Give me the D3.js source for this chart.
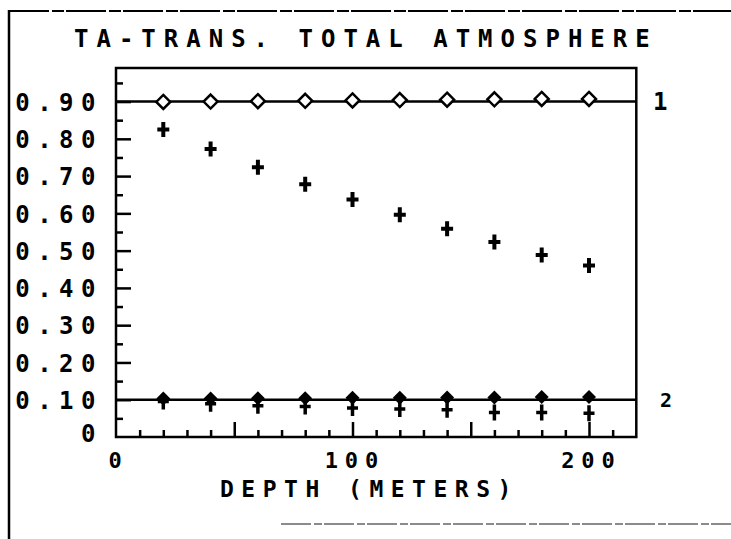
<!DOCTYPE html>
<html>
<head>
<meta charset="utf-8">
<script src="https://cdn.jsdelivr.net/npm/d3@7"></script>
<style>
  body { margin: 0; background: #fff; }
  text { font-family: "DejaVu Sans Mono", monospace; font-weight: bold; fill: #000; }
</style>
</head>
<body>
<div id="chart"></div>
<script>
// size of page
var width = 731;
var height = 539;

// data (depth in meters)
var depths = [20, 40, 60, 80, 100, 120, 140, 160, 180, 200];
var openDiamonds = [0.899, 0.900, 0.901, 0.902, 0.903, 0.904, 0.905, 0.906, 0.907, 0.907];
var plusMarks = [0.825, 0.773, 0.724, 0.678, 0.637, 0.596, 0.559, 0.523, 0.488, 0.460];
var solidDiamonds = [0.103, 0.103, 0.104, 0.104, 0.105, 0.105, 0.106, 0.106, 0.107, 0.107];
var daggerMarks = [0.095, 0.089, 0.084, 0.082, 0.078, 0.075, 0.073, 0.066, 0.066, 0.064];

// horizontal reference lines and their labels
var refLevels = [0.90, 0.10];
var refLabels = ["1", "2"];

// ticks
var xTickValues = [0, 100, 200];
var xTickLabels = ["0", "100", "200"];
var xMinorTicks = [10, 20, 30, 40, 60, 70, 80, 90, 110, 120, 130, 140, 160, 170, 180, 190, 210];
var xMajorTicks = [50, 100, 150, 200];
var yTickValues = [0, 0.1, 0.2, 0.3, 0.4, 0.5, 0.6, 0.7, 0.8, 0.9];
var yTickLabels = ["0", "0.10", "0.20", "0.30", "0.40", "0.50", "0.60", "0.70", "0.80", "0.90"];
var yMinorTicks = [0.05, 0.15, 0.25, 0.35, 0.45, 0.55, 0.65, 0.75, 0.85, 0.95];

var title = "TA-TRANS. TOTAL ATMOSPHERE";
var xTitle = "DEPTH (METERS)";

// scales
var x = d3.scaleLinear().domain([0, 220]).range([116, 636.3]);
var y = d3.scaleLinear().domain([0, 0.99]).range([437, 68]);

var svg = d3.select("#chart")
	.append("svg")
	.attr("width", width)
	.attr("height", height);

svg.append("rect").attr("width", width).attr("height", height).attr("fill", "#fff");

// page border (what's left of it on the scan)
svg.append("line").attr("x1", 9).attr("x2", 9).attr("y1", 10).attr("y2", 539)
	.attr("stroke", "#000").attr("stroke-width", 2.5);
svg.append("line").attr("x1", 9).attr("x2", 731).attr("y1", 11).attr("y2", 11)
	.attr("stroke", "#000").attr("stroke-width", 2).attr("stroke-dasharray", "40 3 12 2");
svg.append("line").attr("x1", 281).attr("x2", 731).attr("y1", 524).attr("y2", 524)
	.attr("stroke", "#666").attr("stroke-width", 1.5).attr("stroke-dasharray", "30 3 8 2");

// title
svg.append("text")
	.attr("x", 74)
	.attr("y", 47)
	.style("font-size", "24px")
	.style("letter-spacing", "8px")
	.text(title);

// x ticks pointing up into the plot
var xMinorAxis = d3.axisBottom(x).tickValues(xMinorTicks).tickSize(-7).tickFormat("");
var xMajorAxis = d3.axisBottom(x).tickValues(xMajorTicks).tickSize(-15).tickFormat("");
[xMinorAxis, xMajorAxis].forEach(function (ax) {
	var g = svg.append("g").attr("transform", "translate(0," + y(0) + ")").call(ax);
	g.select(".domain").remove();
	g.selectAll("line").attr("stroke", "#000").attr("stroke-width", 2.5);
});

// x labels
var xLab = svg.append("g")
	.attr("transform", "translate(0," + y(0) + ")")
	.call(d3.axisBottom(x).tickValues(xTickValues).tickSize(0).tickPadding(0)
		.tickFormat(function (d, i) { return xTickLabels[i]; }));
xLab.select(".domain").remove();
xLab.selectAll("text")
	.attr("y", 31)
	.attr("dy", 0)
	.attr("dx", 2)
	.attr("fill", "#000")
	.style("font-size", "22px")
	.style("font-family", "'DejaVu Sans Mono', monospace")
	.style("letter-spacing", "7px");

// y ticks pointing right into the plot
var yMinorAxis = d3.axisLeft(y).tickValues(yMinorTicks).tickSize(-7).tickFormat("");
var yMajorAxis = d3.axisLeft(y).tickValues(yTickValues.slice(1)).tickSize(-15).tickFormat("");
[yMinorAxis, yMajorAxis].forEach(function (ax) {
	var g = svg.append("g").attr("transform", "translate(" + x(0) + ",0)").call(ax);
	g.select(".domain").remove();
	g.selectAll("line").attr("stroke", "#000").attr("stroke-width", 2.5);
});

// y labels
var yLab = svg.append("g")
	.attr("transform", "translate(103,0)")
	.call(d3.axisLeft(y).tickValues(yTickValues).tickSize(0).tickPadding(0)
		.tickFormat(function (d, i) { return yTickLabels[i]; }));
yLab.select(".domain").remove();
yLab.selectAll("text")
	.attr("dy", "0.36em")
	.attr("fill", "#000")
	.style("font-size", "24px")
	.style("font-family", "'DejaVu Sans Mono', monospace")
	.style("letter-spacing", "7.5px");
yLab.selectAll(".tick").filter(function (d) { return d === 0; })
	.attr("transform", "translate(0," + (y(0) - 4) + ")");

// plot frame
svg.append("rect")
	.attr("x", x(0))
	.attr("y", y(0.99))
	.attr("width", x(220) - x(0))
	.attr("height", y(0) - y(0.99))
	.attr("fill", "none")
	.attr("stroke", "#000")
	.attr("stroke-width", 2.5);

// reference lines
svg.selectAll(".ref")
	.data(refLevels)
	.enter()
	.append("line")
	.attr("class", "ref")
	.attr("x1", x(0))
	.attr("x2", x(220))
	.attr("y1", function (d) { return y(d); })
	.attr("y2", function (d) { return y(d); })
	.attr("stroke", "#000")
	.attr("stroke-width", 2.5);

svg.selectAll(".refLabel")
	.data(refLevels)
	.enter()
	.append("text")
	.attr("class", "refLabel")
	.attr("x", function (d, i) { return i == 0 ? 653 : 660; })
	.attr("y", function (d) { return y(d); })
	.attr("dy", "0.36em")
	.style("font-size", function (d, i) { return i == 0 ? "24px" : "20px"; })
	.text(function (d, i) { return refLabels[i]; });

// markers
function diamondPath(s) {
	return "M0," + (-s) + "L" + s + ",0L0," + s + "L" + (-s) + ",0Z";
}

// daggers (lower plus marks) first so the diamonds sit on top
svg.selectAll(".dagger")
	.data(depths)
	.enter()
	.append("path")
	.attr("class", "dagger")
	.attr("transform", function (d, i) { return "translate(" + x(d) + "," + y(daggerMarks[i]) + ")"; })
	.attr("d", "M0,-8L0,8M-5.5,0L5.5,0")
	.attr("stroke", "#000")
	.attr("stroke-width", 3.5)
	.attr("fill", "none");

svg.selectAll(".solid")
	.data(depths)
	.enter()
	.append("path")
	.attr("class", "solid")
	.attr("transform", function (d, i) { return "translate(" + x(d) + "," + y(solidDiamonds[i]) + ")"; })
	.attr("d", diamondPath(7))
	.attr("fill", "#000");

svg.selectAll(".open")
	.data(depths)
	.enter()
	.append("path")
	.attr("class", "open")
	.attr("transform", function (d, i) { return "translate(" + x(d) + "," + y(openDiamonds[i]) + ")"; })
	.attr("d", diamondPath(7))
	.attr("fill", "#fff")
	.attr("stroke", "#000")
	.attr("stroke-width", 2.5);

svg.selectAll(".plus")
	.data(depths)
	.enter()
	.append("path")
	.attr("class", "plus")
	.attr("transform", function (d, i) { return "translate(" + x(d) + "," + y(plusMarks[i]) + ")"; })
	.attr("d", "M0,-7.5L0,7.5M-6,0L6,0")
	.attr("stroke", "#000")
	.attr("stroke-width", 4)
	.attr("fill", "none");

// x axis title
svg.append("text")
	.attr("x", 220)
	.attr("y", 497)
	.style("font-size", "23px")
	.style("letter-spacing", "7.5px")
	.text(xTitle);
</script>
</body>
</html>
